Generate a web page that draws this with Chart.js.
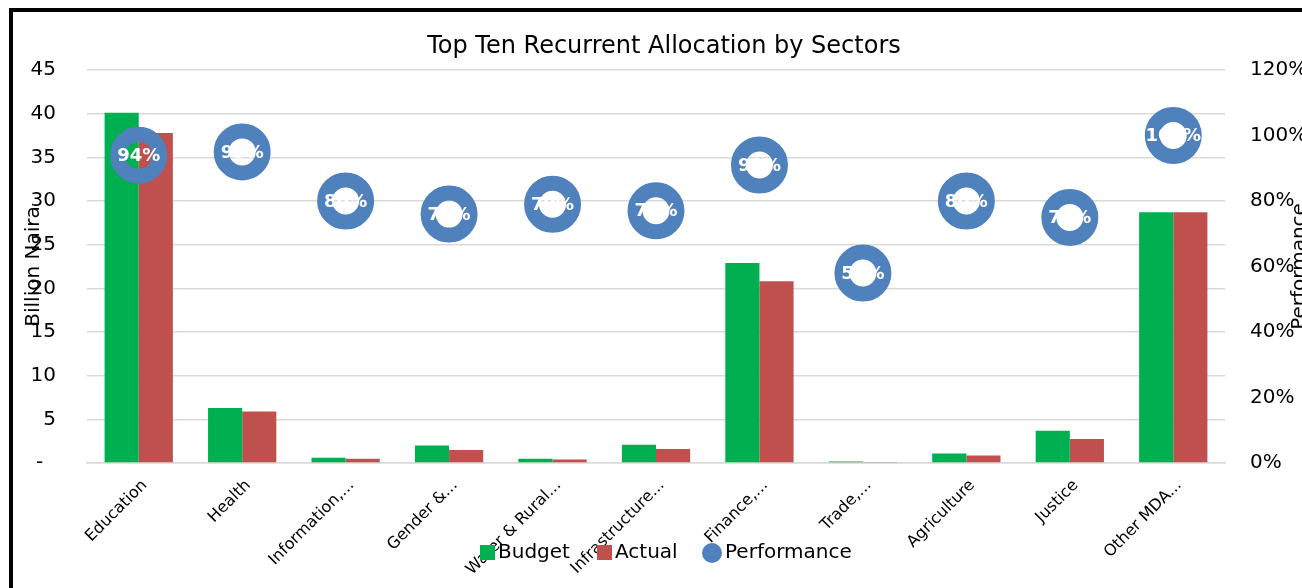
<!DOCTYPE html>
<html>
<head>
<meta charset="utf-8">
<script src="https://cdn.jsdelivr.net/npm/chart.js@4.4.1/dist/chart.umd.min.js"></script>
<style>
  html, body { margin: 0; padding: 0; background: #fff; overflow: hidden; }
  #wrap { position: relative; width: 1302px; height: 588px; }
  #frame {
    position: absolute; left: 9px; top: 8px; width: 1400px; height: 700px;
    border: 4px solid #000; box-sizing: border-box; pointer-events: none;
  }
  canvas { position: absolute; left: 0; top: 0; }
</style>
</head>
<body>
<div id="wrap">
  <canvas id="chart" width="1302" height="588"></canvas>
  <div id="frame"></div>
</div>
<script>
// ─── Data ─────────────────────────────────────────────────────────────────────

const SECTORS = [
  "Education", "Health", "Information,...", "Gender &...", "Water & Rural...",
  "Infrastructure...", "Finance,...", "Trade,...", "Agriculture", "Justice", "Other MDA...",
];
const BUDGET      = [40.1, 6.3, 0.6, 2.0, 0.5, 2.1, 22.9, 0.18, 1.1, 3.7, 28.7];
const ACTUAL      = [37.8, 5.9, 0.5, 1.5, 0.4, 1.6, 20.8, 0.07, 0.85, 2.75, 28.7];
const PERFORMANCE = [0.94, 0.95, 0.80, 0.76, 0.79, 0.77, 0.91, 0.58, 0.80, 0.75, 1.00];

const TITLE = "Top Ten Recurrent Allocation by Sectors";
const LEFT_TITLE = "Billion Naira";
const RIGHT_TITLE = "Performance";

const FONT = "'DejaVu Sans', Verdana, sans-serif";
const COLORS = { budget: "#00B050", actual: "#C0504D", perf: "#4F81BD", grid: "#D9D9D9" };

const pct = (v) => Math.round(v * 100) + "%";

// ─── Overlay text: title, axis titles, bubble labels, legend ─────────────────

const overlay = {
  id: "overlay",
  afterDatasetsDraw(chart) {
    const { ctx } = chart;
    const meta = chart.getDatasetMeta(0);
    ctx.save();
    ctx.fillStyle = "#fff";
    ctx.font = `bold 18px ${FONT}`;
    ctx.textAlign = "center";
    ctx.textBaseline = "middle";
    meta.data.forEach((pt, i) => ctx.fillText(pct(PERFORMANCE[i]), pt.x, pt.y + 1));
    ctx.restore();
  },
  afterDraw(chart) {
    const { ctx, chartArea } = chart;
    const midY = (chartArea.top + chartArea.bottom) / 2;
    ctx.save();
    ctx.fillStyle = "#000";
    ctx.textBaseline = "middle";

    // chart title
    ctx.font = `24px ${FONT}`;
    ctx.textAlign = "center";
    ctx.fillText(TITLE, 664, 47);

    // axis titles
    ctx.font = `20px ${FONT}`;
    ctx.save();
    ctx.translate(34, midY);
    ctx.rotate(-Math.PI / 2);
    ctx.fillText(LEFT_TITLE, 0, 0);
    ctx.restore();
    ctx.save();
    ctx.translate(1300, midY);
    ctx.rotate(-Math.PI / 2);
    ctx.fillText(RIGHT_TITLE, 0, 0);
    ctx.restore();

    // legend
    const ly = 553;
    ctx.textAlign = "left";
    ctx.fillStyle = COLORS.budget;
    ctx.fillRect(480, ly - 8, 15, 15);
    ctx.fillStyle = COLORS.actual;
    ctx.fillRect(597, ly - 8, 15, 15);
    ctx.fillStyle = COLORS.perf;
    ctx.beginPath();
    ctx.arc(712, ly, 10, 0, Math.PI * 2);
    ctx.fill();
    ctx.fillStyle = "#000";
    ctx.fillText("Budget", 498, ly);
    ctx.fillText("Actual", 615, ly);
    ctx.fillText("Performance", 725, ly);
    ctx.restore();
  },
};

// ─── Chart ────────────────────────────────────────────────────────────────────

new Chart(document.getElementById("chart"), {
  type: "bar",
  data: {
    labels: SECTORS,
    datasets: [
      {
        type: "line",
        label: "Performance",
        data: PERFORMANCE,
        yAxisID: "y1",
        showLine: false,
        pointRadius: 21,
        pointHoverRadius: 21,
        pointBorderWidth: 15,
        pointHoverBorderWidth: 15,
        pointBorderColor: COLORS.perf,
        pointBackgroundColor: "rgba(0,0,0,0)",
        borderColor: COLORS.perf,
        clip: false,
        order: 0,
      },
      { label: "Budget", data: BUDGET, backgroundColor: COLORS.budget, yAxisID: "y", order: 1 },
      { label: "Actual", data: ACTUAL, backgroundColor: COLORS.actual, yAxisID: "y", order: 1 },
    ],
  },
  options: {
    responsive: false,
    animation: false,
    events: [],
    layout: { padding: { top: 70, left: 0, right: 0, bottom: 0 } },
    datasets: { bar: { categoryPercentage: 0.66, barPercentage: 1 } },
    plugins: {
      legend: { display: false },
      tooltip: { enabled: false },
      title: { display: false },
    },
    scales: {
      x: {
        offset: true,
        grid: { display: false, drawTicks: false },
        border: { color: COLORS.grid, width: 1.5 },
        ticks: {
          autoSkip: false,
          minRotation: 45,
          maxRotation: 45,
          padding: 13,
          labelOffset: 6,
          color: "#000",
          font: { family: FONT, size: 16 },
        },
        afterFit(s) { s.height = 125; },
      },
      y: {
        position: "left",
        min: 0,
        max: 45,
        ticks: {
          stepSize: 5,
          padding: 31,
          color: "#000",
          font: { family: FONT, size: 20 },
          callback: (v) => (v === 0 ? "-  " : v),
        },
        grid: { color: COLORS.grid, lineWidth: 1.5, drawTicks: false },
        border: { display: false },
        afterFit(s) { s.width = 87; },
      },
      y1: {
        position: "right",
        min: 0,
        max: 1.2,
        ticks: {
          stepSize: 0.2,
          padding: 25,
          color: "#000",
          font: { family: FONT, size: 20 },
          callback: (v) => pct(v),
        },
        grid: { display: false, drawTicks: false },
        border: { display: false },
        afterFit(s) { s.width = 77; },
      },
    },
  },
  plugins: [overlay],
});
</script>
</body>
</html>
